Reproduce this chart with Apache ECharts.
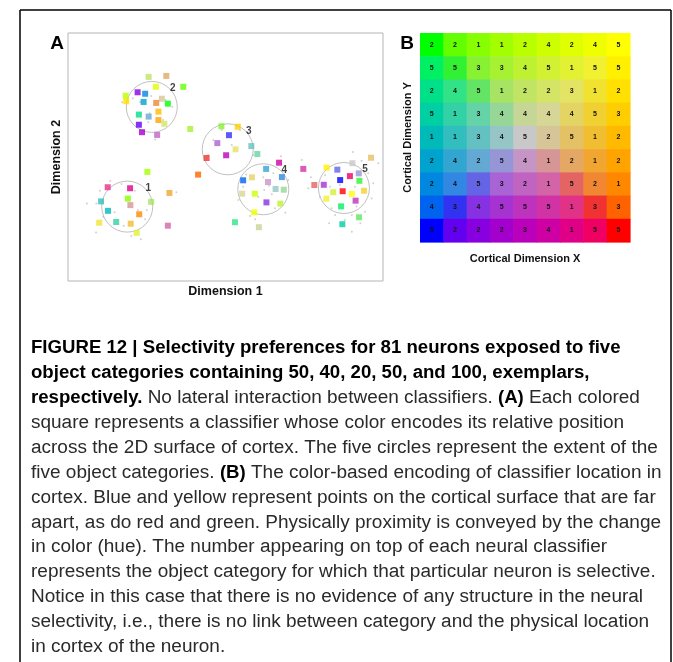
<!DOCTYPE html>
<html><head><meta charset="utf-8">
<script src="https://cdn.jsdelivr.net/npm/echarts@6/dist/echarts.min.js"></script>
<style>html,body{margin:0;padding:0;background:#fff;} #c{width:673px;height:662px;}</style>
</head><body><div id="c"></div>
<script>
// ---- data ----
const categories = [1, 2, 3, 4, 5];
const circleCenters = [[18.8, 30.0], [26.6, 70.2], [50.7, 53.1], [62.0, 37.0], [87.6, 37.5]];
const gridValues = [
  [2,2,1,1,2,4,2,4,5],
  [5,5,3,3,4,5,1,5,5],
  [2,4,5,1,2,2,3,1,2],
  [5,1,3,4,4,4,4,5,3],
  [1,1,3,4,5,2,5,1,2],
  [2,4,2,5,4,1,2,1,2],
  [2,4,5,3,2,1,5,2,1],
  [4,3,4,5,5,5,1,3,3],
  [5,2,2,2,3,4,1,5,5]
];
// neurons: [dim1, dim2, cortex row, cortex col]
const neuronsCat1 = [[12.6,37.8,7,6],[19.7,37.4,8,6],[10.5,32.1,4,1],[12.7,28.3,4,0],[19.0,33.2,0,2],[19.8,30.6,5,5],[26.4,31.9,2,3],[22.6,26.9,6,8],[9.9,23.5,2,7],[15.3,23.8,3,1],[19.9,23.1,4,7],[21.8,19.4,1,6],[32.2,35.5,5,7],[31.7,22.3,6,5],[25.2,44.0,0,3]];
const neuronsCat2 = [[31.7,71.5,0,0],[36.6,78.3,0,1],[18.3,74.7,0,4],[27.9,78.3,0,6],[22.5,67.1,2,0],[25.6,82.3,2,4],[30.6,63.4,2,5],[18.5,72.5,2,8],[29.8,73.5,4,5],[28.7,68.3,4,8],[24.0,72.2,5,0],[25.6,66.3,5,2],[31.2,82.7,5,6],[28.7,64.9,5,8],[24.5,75.5,6,0],[28.3,58.9,6,4],[28.0,71.8,6,7],[22.5,63.0,8,1],[22.1,76.1,8,2],[23.5,60.0,8,3]];
const neuronsCat3 = [[48.7,62.4,1,2],[38.8,61.3,1,3],[53.2,53.1,2,6],[60.1,51.2,3,2],[53.9,62.2,3,8],[58.2,54.4,4,2],[47.4,55.6,6,3],[51.1,58.8,7,1],[44.0,49.6,7,7],[41.3,42.9,7,8],[50.2,50.7,8,4]];
const neuronsCat4 = [[67.0,47.7,8,5],[62.9,45.2,5,1],[67.9,41.9,6,1],[55.6,40.6,7,0],[58.4,41.8,3,6],[63.5,39.9,5,4],[65.9,37.1,4,3],[68.5,36.8,3,3],[55.3,35.2,3,5],[59.3,35.2,0,5],[63.0,31.7,7,2],[67.4,31.2,1,4],[59.1,27.7,0,7],[53.0,23.7,2,1],[60.6,21.7,3,4]];
const neuronsCat5 = [[96.2,49.7,4,6],[74.7,45.2,7,5],[82.1,45.7,1,8],[85.5,44.9,6,2],[90.3,47.5,4,4],[92.3,43.4,5,3],[89.5,42.3,8,7],[86.4,40.7,8,0],[92.5,40.4,1,1],[78.2,38.7,6,6],[81.2,38.8,7,3],[87.2,36.2,8,8],[90.1,35.1,0,8],[94.0,36.4,3,7],[84.2,35.8,1,5],[82.0,33.2,1,7],[91.3,32.4,7,4],[86.7,30.1,1,0],[92.4,25.7,2,2],[87.1,22.9,3,0]];
const exemplarsCat1 = [[6.0,31.3],[8.9,19.6],[10.1,36.4],[13.4,40.3],[17.0,39.1],[21.2,36.4],[22.2,28.6],[14.8,27.7],[11.2,25.9],[24.5,24.9],[25.0,28.6],[20.1,18.1],[23.1,16.8],[34.4,35.8],[17.7,22.3],[9.0,31.3]];
const exemplarsCat2 = [[17.2,72.1],[22.9,72.2],[25.9,67.6],[31.0,73.0],[27.7,57.1],[25.5,64.0],[30.2,64.9],[20.6,73.7],[26.4,74.6],[33.1,70.3]];
const exemplarsCat3 = [[46.1,56.9],[54.6,60.9],[58.8,50.8],[44.5,50.8],[48.8,60.9],[52.0,54.8]];
const exemplarsCat4 = [[67.6,50.3],[62.0,41.8],[56.6,42.9],[60.4,34.0],[64.7,35.0],[57.8,26.2],[65.7,29.3],[69.0,27.5],[59.4,24.9],[55.6,38.0],[54.1,32.7],[63.8,38.4],[69.9,40.7],[65.2,43.4],[62.3,36.7],[74.2,48.8]];
const exemplarsCat5 = [[90.4,52.0],[77.1,41.8],[96.9,39.4],[96.4,33.3],[90.1,19.9],[82.9,23.3],[90.1,26.6],[84.8,26.6],[94.3,27.9],[81.6,42.7],[80.0,33.8],[93.2,48.5],[86.3,38.7],[91.1,38.0],[83.2,38.0],[87.9,24.6],[95.3,43.4],[83.7,29.3],[91.6,30.0],[76.3,37.4],[98.5,47.5],[92.8,23.3]];
const cortexX = ['1','2','3','4','5','6','7','8','9'];
const cortexY = ['1','2','3','4','5','6','7','8','9'];

// ---- colour encoding of cortical position ----
function cellColor(row, col) {
  const x = col / 8 - 0.5, y = (8 - row) / 8 - 0.5;
  const m = Math.max(Math.abs(x), Math.abs(y));
  const gray = 200;
  if (m === 0) return 'rgb(' + gray + ',' + gray + ',' + gray + ')';
  const u = x * 0.5 / m + 0.5, v = y * 0.5 / m + 0.5;
  const lin = [u, v, (1 - u) * (1 - v)];
  const r = m / 0.5;
  const c = lin.map(l => Math.round(gray * (1 - r) + 255 * Math.pow(l, 1 / 2.2) * r));
  return 'rgb(' + c.join(',') + ')';
}

const allNeurons = [].concat(neuronsCat1, neuronsCat2, neuronsCat3, neuronsCat4, neuronsCat5);
const allExemplars = [].concat(exemplarsCat1, exemplarsCat2, exemplarsCat3, exemplarsCat4, exemplarsCat5);
const heatData = [];
gridValues.forEach((rowVals, r) => rowVals.forEach((val, c) => heatData.push([c, r, val])));

const FONT = 'Liberation Sans, Arial, Helvetica, sans-serif';
const chart = echarts.init(document.getElementById('c'), null, {renderer: 'canvas'});

// caption font sizes fitted to the reference line widths
const mctx = document.createElement('canvas').getContext('2d');
function measure(txt, font) { mctx.font = font; return mctx.measureText(txt).width; }
const boldSize = 16 * 590 / measure('FIGURE 12 | Selectivity preferences for 81 neurons exposed to five', 'bold 16px ' + FONT);
const regSize = 16 * 627 / measure('across the 2D surface of cortex. The five circles represent the extent of the', '16px ' + FONT);

const captionLines = [
  '{b|FIGURE 12 | Selectivity preferences for 81 neurons exposed to five}',
  '{b|object categories containing 50, 40, 20, 50, and 100, exemplars,}',
  '{b|respectively.}{r| No lateral interaction between classifiers. }{b|(A)}{r| Each colored}',
  '{r|square represents a classifier whose color encodes its relative position}',
  '{r|across the 2D surface of cortex. The five circles represent the extent of the}',
  '{r|five object categories. }{b|(B)}{r| The color-based encoding of classifier location in}',
  '{r|cortex. Blue and yellow represent points on the cortical surface that are far}',
  '{r|apart, as do red and green. Physically proximity is conveyed by the change}',
  '{r|in color (hue). The number appearing on top of each neural classifier}',
  '{r|represents the object category for which that particular neuron is selective.}',
  '{r|Notice in this case that there is no evidence of any structure in the neural}',
  '{r|selectivity, i.e., there is no link between category and the physical location}',
  '{r|in cortex of the neuron.}'
];
const graphics = [
  {type: 'line', shape: {x1: 20, y1: 10, x2: 671, y2: 10}, style: {stroke: '#000', lineWidth: 1.5}},
  {type: 'line', shape: {x1: 20, y1: 10, x2: 20, y2: 662}, style: {stroke: '#000', lineWidth: 1.5}},
  {type: 'line', shape: {x1: 671, y1: 10, x2: 671, y2: 662}, style: {stroke: '#000', lineWidth: 1.5}},
  {type: 'text', x: 57, y: 44, style: {text: 'A', font: 'bold 19px ' + FONT, fill: '#000', align: 'center', verticalAlign: 'middle'}},
  {type: 'text', x: 407, y: 44, style: {text: 'B', font: 'bold 19px ' + FONT, fill: '#000', align: 'center', verticalAlign: 'middle'}}
];
captionLines.forEach((t, i) => {
  graphics.push({type: 'text', x: 31, y: 348 + 24.9 * i, style: {
    text: t, verticalAlign: 'middle', align: 'left',
    rich: {
      b: {font: 'bold ' + boldSize.toFixed(2) + 'px ' + FONT, fill: '#000'},
      r: {font: regSize.toFixed(2) + 'px ' + FONT, fill: '#2a2a2a'}
    }
  }});
});

chart.setOption({
  animation: false,
  backgroundColor: '#fff',
  grid: [
    {left: 68, top: 33, width: 315, height: 248, show: true, borderColor: '#b5b5b5', borderWidth: 1, backgroundColor: '#fff'},
    {left: 420, top: 33, width: 210, height: 209}
  ],
  xAxis: [
    {gridIndex: 0, type: 'value', min: 0, max: 100, axisLine: {show: false}, axisTick: {show: false}, axisLabel: {show: false}, splitLine: {show: false},
     name: 'Dimension 1', nameLocation: 'middle', nameGap: 4, nameTextStyle: {fontFamily: FONT, fontWeight: 'bold', fontSize: 12.5, color: '#111', verticalAlign: 'top'}},
    {gridIndex: 1, type: 'category', data: cortexX, axisLine: {show: false}, axisTick: {show: false}, axisLabel: {show: false}, splitLine: {show: false},
     name: 'Cortical Dimension X', nameLocation: 'middle', nameGap: 11, nameTextStyle: {fontFamily: FONT, fontWeight: 'bold', fontSize: 11, color: '#111', verticalAlign: 'top'}}
  ],
  yAxis: [
    {gridIndex: 0, type: 'value', min: 0, max: 100, axisLine: {show: false}, axisTick: {show: false}, axisLabel: {show: false}, splitLine: {show: false},
     name: 'Dimension 2', nameLocation: 'middle', nameGap: 5, nameTextStyle: {fontFamily: FONT, fontWeight: 'bold', fontSize: 12.5, color: '#111', verticalAlign: 'bottom'}},
    {gridIndex: 1, type: 'category', data: cortexY, inverse: true, axisLine: {show: false}, axisTick: {show: false}, axisLabel: {show: false}, splitLine: {show: false},
     name: 'Cortical Dimension Y', nameLocation: 'middle', nameGap: 7, nameTextStyle: {fontFamily: FONT, fontWeight: 'bold', fontSize: 11, color: '#111', verticalAlign: 'bottom'}}
  ],
  series: [
    {type: 'scatter', xAxisIndex: 0, yAxisIndex: 0, silent: true, z: 1, symbol: 'circle', symbolSize: 2,
     itemStyle: {color: '#c4c4c4'}, data: allExemplars},
    {type: 'scatter', xAxisIndex: 0, yAxisIndex: 0, silent: true, z: 2, symbol: 'circle', symbolSize: 51,
     itemStyle: {color: 'rgba(0,0,0,0)', borderColor: '#b0b0b0', borderWidth: 1},
     label: {show: true, position: 'inside', offset: [21, -18.5], formatter: p => String(categories[p.dataIndex]),
             fontFamily: FONT, fontWeight: 'bold', fontSize: 10, color: '#111'},
     data: circleCenters},
    {type: 'scatter', xAxisIndex: 0, yAxisIndex: 0, silent: true, z: 3, symbol: 'rect', symbolSize: 6,
     data: allNeurons.map(n => ({value: [n[0], n[1]], itemStyle: {color: cellColor(n[2], n[3])}}))},
    {type: 'custom', xAxisIndex: 1, yAxisIndex: 1, silent: true, data: heatData,
     renderItem: function (params, api) {
       const c = api.value(0), r = api.value(1), v = api.value(2);
       const p = api.coord([c, r]);
       const s = api.size([1, 1]);
       return {type: 'group', children: [
         {type: 'rect', shape: {x: p[0] - s[0] / 2, y: p[1] - s[1] / 2, width: s[0] + 0.6, height: s[1] + 0.6},
          style: {fill: cellColor(r, c)}},
         {type: 'text', x: p[0], y: p[1], style: {text: String(v), fill: '#111', font: 'bold 7px ' + FONT, align: 'center', verticalAlign: 'middle'}}
       ]};
     }}
  ],
  graphic: graphics
});
</script></body></html>
